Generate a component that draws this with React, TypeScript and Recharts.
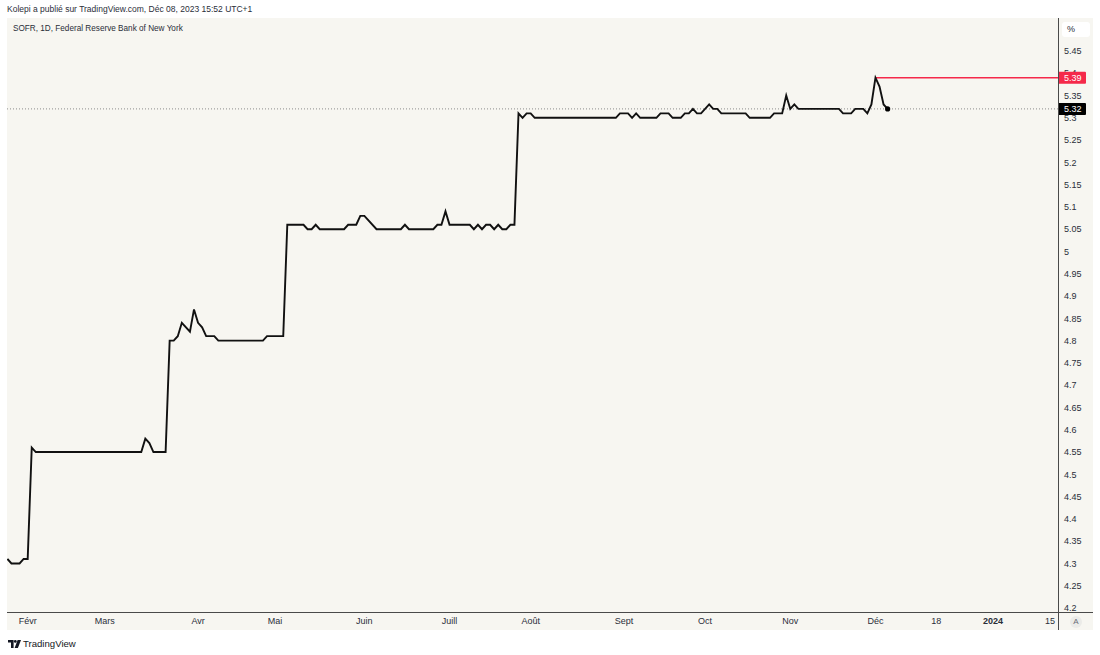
import React from 'react';
import { LineChart, Line, XAxis, YAxis, ReferenceLine, ReferenceDot } from 'recharts';

// Bar position (business-day index) of each vertex of the SOFR line, and its rate (%)
const dayIndex = [
  0, 1, 3, 4, 5, 6, 7,
  33, 34, 35, 36, 39,
  40, 41, 42, 43, 45, 46, 47, 48, 49, 51, 52,
  63, 64, 68,
  69, 73, 74, 75, 76, 77,
  83, 84, 86, 87, 88, 91,
  97, 98, 99,
  105, 106, 107, 108, 109,
  114, 115, 116, 117, 118, 119, 120, 121, 122, 123, 124, 125,
  126, 127, 128, 129, 130,
  150, 151, 153, 154, 155, 156,
  160, 161, 163, 164, 166, 167, 168, 169, 170, 171,
  173, 174, 175, 176,
  182, 183, 188, 189, 191,
  192, 193, 194, 195,
  205, 206, 208, 209, 211, 212, 213,
  214, 215, 216, 217,
];
const rate = [
  4.31, 4.3, 4.3, 4.31, 4.31, 4.56, 4.55,
  4.55, 4.58, 4.57, 4.55, 4.55,
  4.8, 4.8, 4.81, 4.84, 4.82, 4.87, 4.84, 4.83, 4.81, 4.81, 4.8,
  4.8, 4.81, 4.81,
  5.06, 5.06, 5.05, 5.05, 5.06, 5.05,
  5.05, 5.06, 5.06, 5.08, 5.08, 5.05,
  5.05, 5.06, 5.05,
  5.05, 5.06, 5.06, 5.09, 5.06,
  5.06, 5.05, 5.06, 5.05, 5.06, 5.06, 5.05, 5.06, 5.05, 5.05, 5.06, 5.06,
  5.31, 5.3, 5.31, 5.31, 5.3,
  5.3, 5.31, 5.31, 5.3, 5.31, 5.3,
  5.3, 5.31, 5.31, 5.3, 5.3, 5.31, 5.31, 5.32, 5.31, 5.31,
  5.33, 5.32, 5.32, 5.31,
  5.31, 5.3, 5.3, 5.31, 5.31,
  5.35, 5.32, 5.33, 5.32,
  5.32, 5.31, 5.31, 5.32, 5.32, 5.31, 5.33,
  5.39, 5.37, 5.33, 5.32,
];

// Time-axis ticks (bar index) and their labels
const timeTickIndex = [5, 24, 47, 66, 88, 109, 129, 152, 172, 193, 214, 229, 243, 257];
const timeTickLabel = ['Févr', 'Mars', 'Avr', 'Mai', 'Juin', 'Juill', 'Août', 'Sept', 'Oct', 'Nov', 'Déc', '18', '2024', '15'];
const boldTimeLabels = ['2024'];

// Price-axis ticks
const priceTicks = [
  4.2, 4.25, 4.3, 4.35, 4.4, 4.45, 4.5, 4.55, 4.6, 4.65, 4.7, 4.75, 4.8, 4.85,
  4.9, 4.95, 5, 5.05, 5.1, 5.15, 5.2, 5.25, 5.3, 5.35, 5.4, 5.45,
];

const peakIndex = 214;
const peakRate = 5.39;
const lastIndex = 217;
const lastRate = 5.32;

const xDomain: [number, number] = [-0.1, 259];
const yDomain: [number, number] = [4.191, 5.524];

const data = dayIndex.map((d, i) => ({ d, v: rate[i] }));

const FONT = '"Liberation Sans", Arial, Helvetica, sans-serif';
const TEXT = '#2a2e39';
const PANEL = '#f7f6f1';
const AXIS_LINE = '#4a4a4a';

const PriceTick = (props: any) => {
  const { x, y, payload } = props;
  const v = payload.value as number;
  if (v === peakRate || v === lastRate) {
    const bg = v === peakRate ? '#f5294a' : '#000000';
    return (
      <g>
        <rect x={x - 6} y={y - 6} width={28} height={12} fill={bg} rx={1} />
        <text x={x} y={y} dy="0.355em" fill="#ffffff" fontSize={9} fontFamily={FONT}>
          {v.toFixed(2)}
        </text>
      </g>
    );
  }
  return (
    <text x={x} y={y} dy="0.355em" fill={TEXT} fontSize={9} fontFamily={FONT} textAnchor="start">
      {String(v)}
    </text>
  );
};

const TimeTick = (props: any) => {
  const { x, y, payload } = props;
  const idx = timeTickIndex.indexOf(payload.value);
  const label = idx >= 0 ? timeTickLabel[idx] : '';
  const bold = boldTimeLabels.includes(label);
  return (
    <text
      x={x}
      y={y}
      dy="0.71em"
      fill={TEXT}
      fontSize={9}
      fontWeight={bold ? 700 : 400}
      fontFamily={FONT}
      textAnchor="middle"
    >
      {label}
    </text>
  );
};

export default function App() {
  return (
    <div style={{ position: 'absolute', left: 0, top: 0, width: 1100, height: 655, background: '#ffffff', overflow: 'hidden', fontFamily: FONT }}>
      <div style={{ position: 'absolute', left: 7, top: 4, fontSize: 8.5, color: TEXT, whiteSpace: 'nowrap' }}>
        Kolepi a publié sur TradingView.com, Déc 08, 2023 15:52 UTC+1
      </div>
      <div style={{ position: 'absolute', left: 7, top: 18, width: 1086, height: 612, background: PANEL }} />
      <div style={{ position: 'absolute', left: 0, top: 0 }}>
        <LineChart width={1100} height={655} data={data} margin={{ top: 18, right: 7, bottom: 25, left: 7 }}>
          <XAxis
            dataKey="d"
            type="number"
            domain={xDomain}
            ticks={timeTickIndex}
            interval={0}
            allowDataOverflow
            axisLine={false}
            tickLine={false}
            tickSize={4}
            height={18}
            tick={<TimeTick />}
          />
          <YAxis
            orientation="right"
            type="number"
            domain={yDomain}
            ticks={[...priceTicks, peakRate, lastRate]}
            interval={0}
            allowDataOverflow
            axisLine={false}
            tickLine={false}
            tickSize={4}
            width={35}
            tick={<PriceTick />}
          />
          <ReferenceLine y={lastRate} stroke="#8c8c8c" strokeDasharray="1 2" strokeWidth={1} />
          <ReferenceLine
            segment={[{ x: peakIndex, y: peakRate }, { x: xDomain[1], y: peakRate }]}
            stroke="#f5294a"
            strokeWidth={1.6}
            ifOverflow="visible"
          />
          <Line
            type="linear"
            dataKey="v"
            stroke="#111111"
            strokeWidth={1.9}
            dot={false}
            activeDot={false}
            isAnimationActive={false}
          />
          <ReferenceDot x={lastIndex} y={lastRate} r={2.6} fill="#000000" stroke="none" />
        </LineChart>
      </div>
      {/* frame lines */}
      <div style={{ position: 'absolute', left: 7, top: 612, width: 1086, height: 1, background: AXIS_LINE }} />
      <div style={{ position: 'absolute', left: 1058, top: 18, width: 1, height: 612, background: AXIS_LINE }} />
      {/* title */}
      <div style={{ position: 'absolute', left: 13, top: 24, fontSize: 8.2, color: TEXT, whiteSpace: 'nowrap' }}>
        SOFR, 1D, Federal Reserve Bank of New York
      </div>
      {/* % box */}
      <div style={{ position: 'absolute', left: 1062, top: 22, width: 28, height: 15, background: '#ffffff', borderRadius: 3, fontSize: 9, color: TEXT, lineHeight: '15px', paddingLeft: 5, boxSizing: 'border-box' }}>
        %
      </div>
      {/* A button */}
      <div style={{ position: 'absolute', left: 1070, top: 616, width: 12, height: 12, borderRadius: 6, background: '#ebebe8', fontSize: 8, color: '#6a6d78', lineHeight: '12px', textAlign: 'center' }}>
        A
      </div>
      {/* TradingView logo */}
      <svg style={{ position: 'absolute', left: 8, top: 640 }} width={13} height={8} viewBox="0 0 13 8">
        <path d="M0 0 H5.6 V8 H3 V2.6 H0 Z" fill="#131722" />
        <circle cx={7.3} cy={1.4} r={1.4} fill="#131722" />
        <path d="M9.6 0 H13 L9.9 8 H6.6 Z" fill="#131722" />
      </svg>
      <div style={{ position: 'absolute', left: 23, top: 638, fontSize: 9.6, color: '#131722', whiteSpace: 'nowrap' }}>
        TradingView
      </div>
    </div>
  );
}
